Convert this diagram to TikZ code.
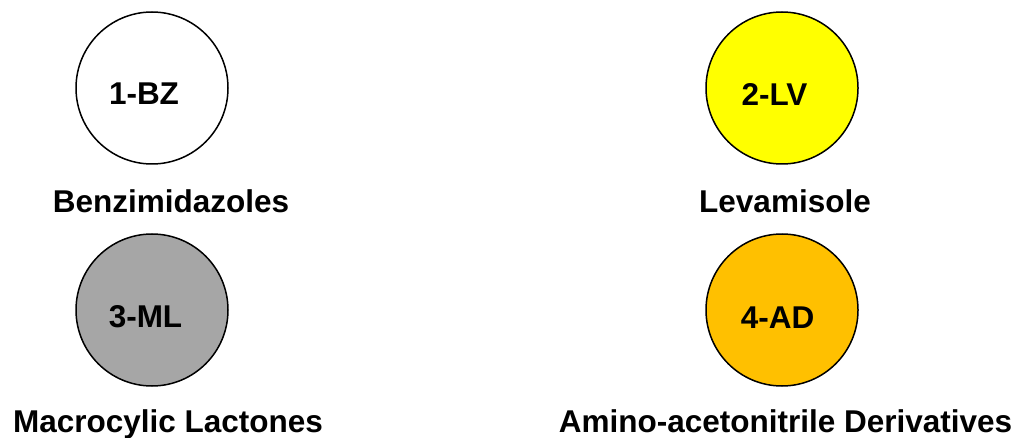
\documentclass[tikz,border=0pt]{standalone}
\usepackage{fontspec}
\setmainfont{Liberation Sans}
\definecolor{lvyellow}{HTML}{FFFF00}
\definecolor{mlgray}{HTML}{A6A6A6}
\definecolor{adorange}{HTML}{FFC000}
\tikzset{
  drug/.style={circle, draw=black, line width=1.5pt, minimum size=152pt, inner sep=0pt},
  code/.style={anchor=base, inner sep=0pt, font=\fontsize{31.5}{36}\selectfont\bfseries},
  family/.style={anchor=base, inner sep=0pt, font=\fontsize{31.5}{36}\selectfont\bfseries}
}
\begin{document}
\begin{tikzpicture}[x=1pt, y=-1pt]
  \useasboundingbox (0,0) rectangle (1016,438);
  % drug class circles
  \node[drug, fill=white]    (bz) at (152,88)  {};
  \node[drug, fill=lvyellow] (lv) at (782,88)  {};
  \node[drug, fill=mlgray]   (ml) at (152,310) {};
  \node[drug, fill=adorange] (ad) at (782,310) {};
  % abbreviations
  \node[code] (bzcode) at (144,104.5)   {1-BZ};
  \node[code] (lvcode) at (774.5,105.5) {2-LV};
  \node[code] (mlcode) at (145.5,327.5) {3-ML};
  \node[code] (adcode) at (777.5,328)   {4-AD};
  % class names
  \node[family] (bzname) at (171,212.5)   {Benzimidazoles};
  \node[family] (lvname) at (785,212.5)   {Levamisole};
  \node[family] (mlname) at (168,432.5)   {Macrocylic Lactones};
  \node[family] (adname) at (785.5,432.5) {Amino-acetonitrile Derivatives};
\end{tikzpicture}
\end{document}
